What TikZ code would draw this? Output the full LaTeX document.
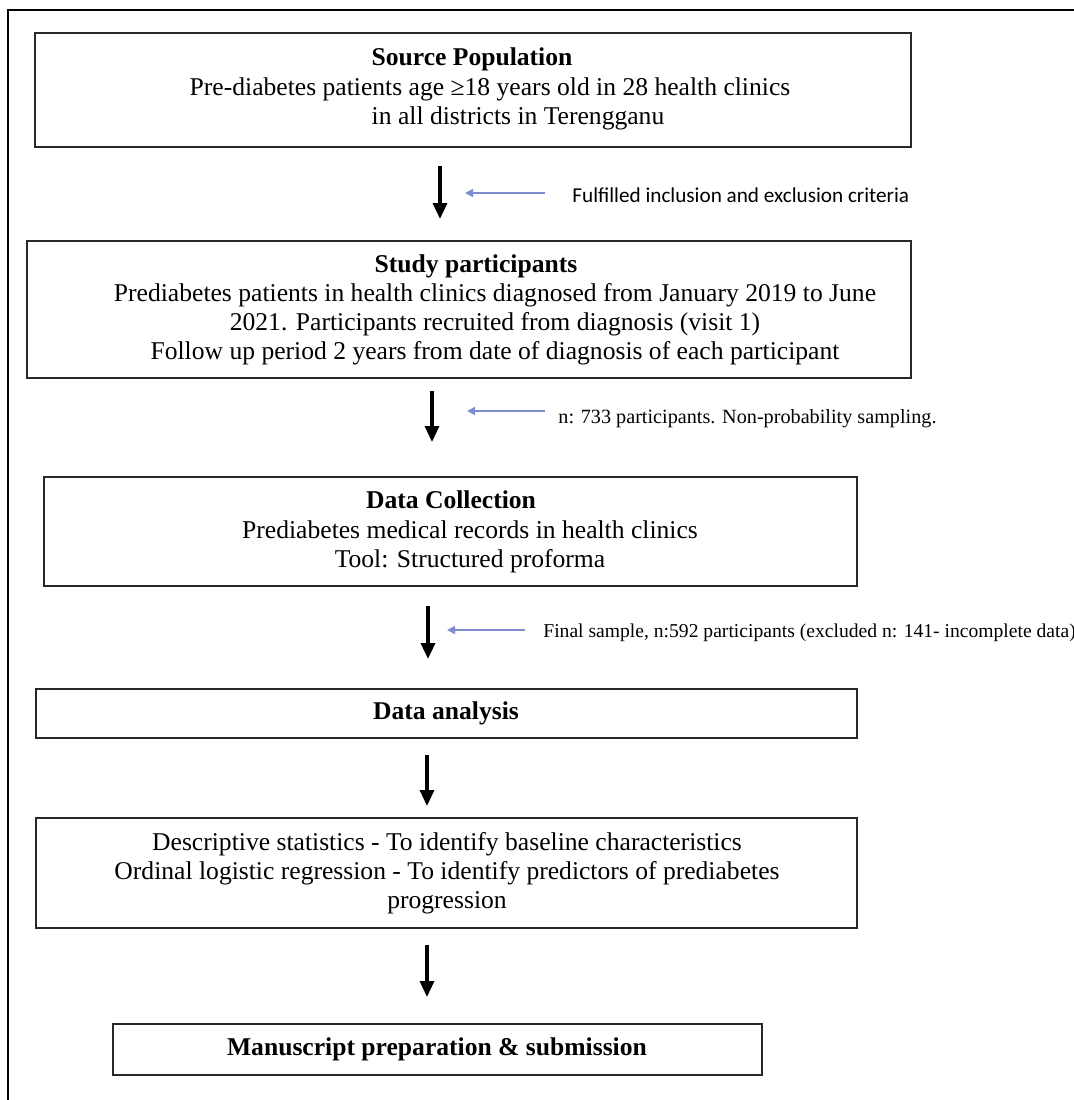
\documentclass[tikz,border=0pt]{standalone}
\usepackage{fontspec}
\setmainfont{Liberation Serif}
\newfontfamily\calib{Carlito}
\usetikzlibrary{arrows.meta}
\definecolor{boxline}{RGB}{40,40,40}
\definecolor{bluearr}{RGB}{125,140,205}
\tikzset{
  flowbox/.style={draw=boxline, line width=1pt, rectangle, inner sep=0pt},
  boxtext/.style={align=center, font=\fontsize{12.8}{14.6}\selectfont, inner sep=0pt},
  sidetext/.style={anchor=west, font=\fontsize{10.1}{12}\selectfont, inner sep=0pt},
  downarrow/.style={line width=1.6pt, -{Triangle[length=8pt,width=7pt]}},
  sidearrow/.style={draw=bluearr, line width=0.8pt, -{Triangle[length=4pt,width=4pt]}},
  frame/.style={line width=1pt, black}
}
\begin{document}
\begin{tikzpicture}[x=0.5pt,y=-0.5pt]
\useasboundingbox (0,0) rectangle (1074,1100);
% outer frame (top and left edges)
\coordinate (fr0) at (8,1100);
\coordinate (fr1) at (8,10);
\coordinate (fr2) at (1074,10);
\draw[frame] (fr0) -- (fr1) -- (fr2);

% Box 1
\node[flowbox, minimum width=438pt, minimum height=57pt] (b1) at (473,90) {};
\node[boxtext] (t1) at (490,89) {\textbf{Source Population}\hspace*{18pt}\\
Pre-diabetes patients age ≥18 years old in 28 health clinics\\
\hspace*{28pt}in all districts in Terengganu};

% Arrow 1
\coordinate (a1s) at (440,166);
\coordinate (a1e) at (440,219);
\draw[downarrow] (a1s) -- (a1e);
\node[sidetext, font=\calib\fontsize{10.6}{12}\selectfont] (l1) at (572,195) {Fulfilled inclusion and exclusion criteria};
\coordinate (s1s) at (545,193);
\coordinate (s1e) at (465,193);
\draw[sidearrow] (s1s) -- (s1e);

% Box 2
\node[flowbox, minimum width=442pt, minimum height=68.5pt] (b2) at (469,309.5) {};
\node[boxtext] (t2) at (495,310) {\textbf{Study participants}\hspace*{19pt}\\
Prediabetes patients in health clinics diagnosed from January 2019 to June\\
2021. Participants recruited from diagnosis (visit 1)\hspace*{7pt}\\
Follow up period 2 years from date of diagnosis of each participant};

% Arrow 2
\coordinate (a2s) at (432,391);
\coordinate (a2e) at (432,442);
\draw[downarrow] (a2s) -- (a2e);
\node[sidetext] (l2) at (558,419) {n: 733 participants. Non-probability sampling.};
\coordinate (s2s) at (545,411);
\coordinate (s2e) at (467,411);
\draw[sidearrow] (s2s) -- (s2e);

% Box 3
\node[flowbox, minimum width=406.5pt, minimum height=54.5pt] (b3) at (450.5,531.5) {};
\node[boxtext] (t3) at (470,532) {\textbf{Data Collection}\hspace*{19pt}\\
Prediabetes medical records in health clinics\\
Tool: Structured proforma};

% Arrow 3
\coordinate (a3s) at (428,606);
\coordinate (a3e) at (428,659);
\draw[downarrow] (a3s) -- (a3e);
\node[sidetext, font=\fontsize{9.8}{12}\selectfont] (l3) at (543,633) {Final sample, n:592 participants (excluded n: 141- incomplete data)};
\coordinate (s3s) at (525,630);
\coordinate (s3e) at (447,630);
\draw[sidearrow] (s3s) -- (s3e);

% Box 4
\node[flowbox, minimum width=410.5pt, minimum height=24.5pt] (b4) at (446.5,713.5) {};
\node[boxtext] (t4) at (446,713) {\textbf{Data analysis}};

% Arrow 4
\coordinate (a4s) at (427,755);
\coordinate (a4e) at (427,806);
\draw[downarrow] (a4s) -- (a4e);

% Box 5
\node[flowbox, minimum width=410.5pt, minimum height=55pt] (b5) at (446.5,873) {};
\node[boxtext] (t5) at (447,873) {Descriptive statistics - To identify baseline characteristics\\
Ordinal logistic regression - To identify predictors of prediabetes\\
progression};

% Arrow 5
\coordinate (a5s) at (427,945);
\coordinate (a5e) at (427,997);
\draw[downarrow] (a5s) -- (a5e);

% Box 6
\node[flowbox, line width=1.4pt, minimum width=324.5pt, minimum height=25.5pt] (b6) at (437.5,1049.5) {};
\node[boxtext] (t6) at (437,1049) {\textbf{Manuscript preparation \& submission}};
\end{tikzpicture}
\end{document}
